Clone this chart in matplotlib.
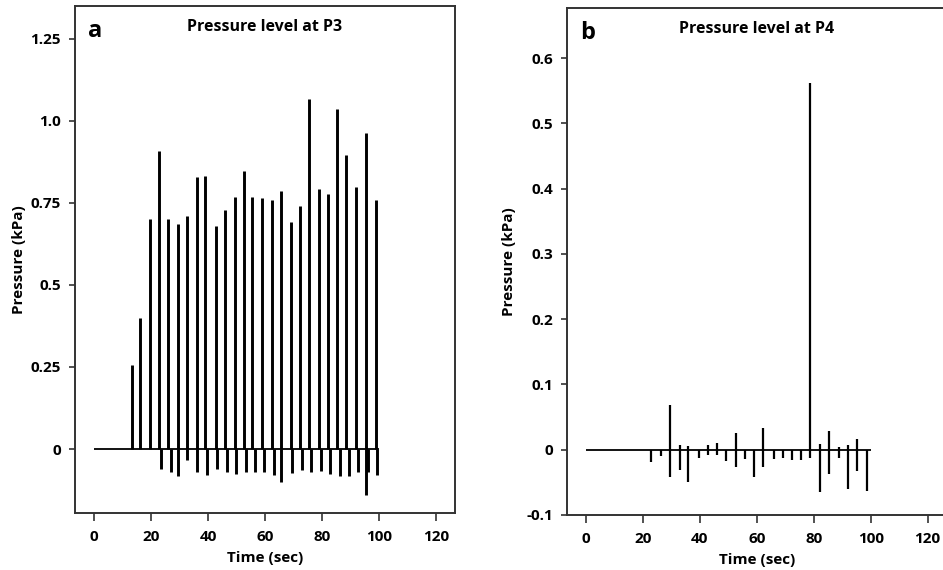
import numpy as np
import matplotlib
matplotlib.use("Agg")
import matplotlib.pyplot as plt

plt.rcParams['font.family'] = ['Open Sans', 'DejaVu Sans']
plt.rcParams['font.weight'] = 'bold'

# Panel a: pressure at P3 (peaks and following dips)
p3_peak_t = [13.4, 16.3, 19.8, 22.9, 26.1, 29.3, 32.7, 36.0, 39.1, 42.8, 46.0,
             49.3, 52.6, 55.6, 58.9, 62.3, 65.7, 69.1, 72.4, 75.6, 78.9, 82.2,
             85.4, 88.6, 92.0, 95.4, 98.8]
p3_peak_v = [0.256, 0.40, 0.70, 0.909, 0.70, 0.685, 0.71, 0.829, 0.831, 0.68,
             0.727, 0.769, 0.847, 0.769, 0.765, 0.759, 0.785, 0.692, 0.740,
             1.067, 0.792, 0.778, 1.037, 0.897, 0.797, 0.963, 0.759]
p3_dip_t = [23.6, 26.9, 29.6, 32.7, 36.2, 39.8, 43.3, 46.6, 49.8, 53.2, 56.6,
            59.8, 63.0, 65.6, 69.6, 72.9, 76.2, 79.5, 82.7, 86.2, 89.4, 92.6,
            95.3, 96.0, 99.2]
p3_dip_v = [-0.061, -0.071, -0.083, -0.033, -0.071, -0.078, -0.061, -0.071,
            -0.075, -0.071, -0.071, -0.071, -0.078, -0.10, -0.073, -0.063,
            -0.071, -0.068, -0.077, -0.081, -0.083, -0.071, -0.139, -0.071,
            -0.08]

# Panel b: pressure at P4 (max / min of each pulse)
p4_t = [23.0, 26.5, 29.6, 33.0, 36.0, 39.6, 42.9, 45.9, 49.3, 52.8, 55.9, 59.1,
        62.2, 66.0, 69.2, 72.4, 75.6, 78.8, 82.1, 85.4, 88.7, 92.0, 95.3, 98.7]
p4_max = [0.0, 0.0, 0.068, 0.008, 0.006, 0.0, 0.007, 0.011, 0.0, 0.026, 0.0,
          0.0, 0.033, 0.0, 0.0, 0.0, 0.0, 0.562, 0.009, 0.029, 0.004, 0.007,
          0.016, 0.0]
p4_min = [-0.019, -0.010, -0.042, -0.031, -0.049, -0.013, -0.008, -0.008,
          -0.018, -0.026, -0.014, -0.042, -0.027, -0.014, -0.013, -0.015,
          -0.015, -0.013, -0.064, -0.037, -0.013, -0.060, -0.032, -0.063]

fig = plt.figure(figsize=(9.43, 5.70), dpi=100)
ax1 = fig.add_axes([0.0795, 0.100, 0.403, 0.8895])
ax2 = fig.add_axes([0.601, 0.0965, 0.403, 0.8895])

# --- panel a
ax1.hlines(0, 0, 100, color='black', lw=1.3)
ax1.vlines(p3_peak_t, 0, p3_peak_v, color='black', lw=2.1)
ax1.vlines(p3_dip_t, p3_dip_v, 0, color='black', lw=2.1)
ax1.set_xlim(-6.7, 126.7)
ax1.set_ylim(-0.195, 1.35)
ax1.set_yticks([0, 0.25, 0.5, 0.75, 1.0, 1.25])
ax1.set_yticklabels(['0', '0.25', '0.5', '0.75', '1.0', '1.25'])
ax1.set_title('Pressure level at P3', y=0.935, fontsize=11.5, fontweight='bold')
ax1.text(0.035, 0.975, 'a', transform=ax1.transAxes, fontsize=17,
         fontweight='bold', va='top', ha='left')

# --- panel b
ax2.hlines(0, 0, 100, color='black', lw=1.3)
ax2.vlines(p4_t, p4_min, p4_max, color='black', lw=1.6)
ax2.set_xlim(-6.7, 126.7)
ax2.set_ylim(-0.1, 0.677)
ax2.set_yticks([-0.1, 0, 0.1, 0.2, 0.3, 0.4, 0.5, 0.6])
ax2.set_yticklabels(['-0.1', '0', '0.1', '0.2', '0.3', '0.4', '0.5', '0.6'])
ax2.set_title('Pressure level at P4', y=0.935, fontsize=11.5, fontweight='bold')
ax2.text(0.035, 0.975, 'b', transform=ax2.transAxes, fontsize=17,
         fontweight='bold', va='top', ha='left')

for ax in (ax1, ax2):
    ax.set_xticks([0, 20, 40, 60, 80, 100, 120])
    ax.set_xlabel('Time (sec)', fontsize=11, fontweight='bold', labelpad=5)
    ax.tick_params(axis='x', direction='out', length=6, width=1.2, pad=6,
                   labelsize=11, color='#333333')
    ax.tick_params(axis='y', direction='out', length=4, width=1.2, pad=6,
                   labelsize=11, color='#333333')
    for s in ax.spines.values():
        s.set_color('#333333')
        s.set_linewidth(1.4)

ax1.set_ylabel('Pressure (kPa)', fontsize=11, fontweight='bold', labelpad=3)
ax2.set_ylabel('Pressure (kPa)', fontsize=11, fontweight='bold', labelpad=7)

fig.savefig('out.png', dpi=100)
